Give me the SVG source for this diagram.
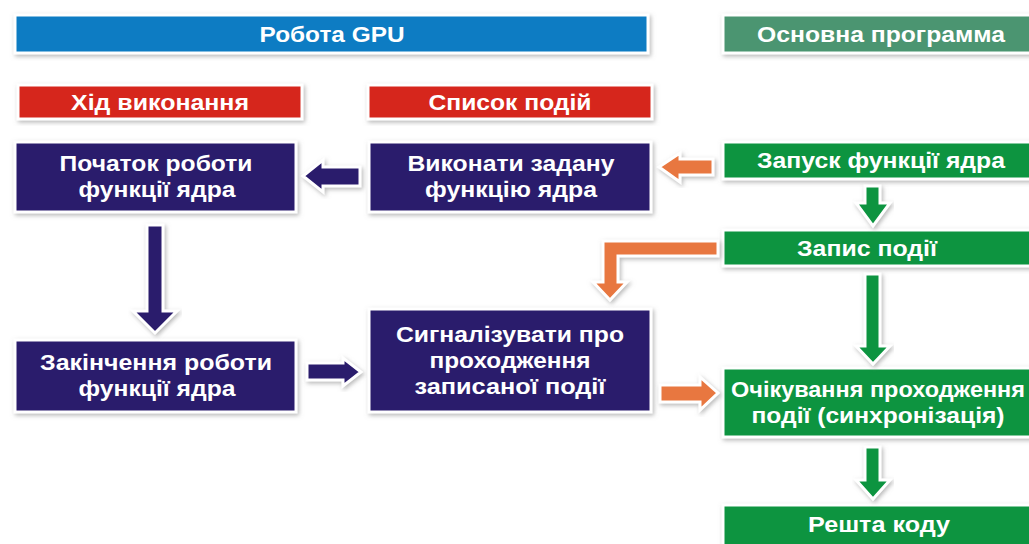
<svg xmlns="http://www.w3.org/2000/svg" width="1029" height="544" viewBox="0 0 1029 544">
<defs>
<filter id="sh" x="-10%" y="-20%" width="120%" height="140%">
<feDropShadow dx="1.5" dy="2" stdDeviation="2" flood-color="#8a8a8a" flood-opacity="0.6"/>
</filter>
</defs>
<style>
.box{stroke:#fff;stroke-width:3;filter:url(#sh)}
.blue{fill:#0a7cc3}.hgreen{fill:#4b9571}.red{fill:#d6261d}.navy{fill:#2a1b6c}.green{fill:#0b9440}
.arr{stroke:#fff;stroke-width:3;stroke-linejoin:miter;filter:url(#sh)}
.an{fill:#2a1b6c}.ao{fill:#e8773f}.ag{fill:#0b9440}
text{font-family:"Liberation Sans",Arial,sans-serif;font-weight:bold;font-size:22px;fill:#fff;text-anchor:middle}
</style>
<rect width="1029" height="544" fill="#fff"/>
<g id="hdr-gpu"><rect class="box blue" x="15" y="15" width="633" height="38"/><text x="332" y="41.5" textLength="145" lengthAdjust="spacingAndGlyphs">Робота GPU</text></g>
<g id="hdr-main"><rect class="box hgreen" x="723" y="15" width="320" height="38"/><text x="881" y="41.5" textLength="248" lengthAdjust="spacingAndGlyphs">Основна программа</text></g>
<g id="hdr-exec"><rect class="box red" x="18" y="85" width="284" height="34"/><text x="160" y="109.5" textLength="178" lengthAdjust="spacingAndGlyphs">Хід виконання</text></g>
<g id="hdr-events"><rect class="box red" x="368" y="85" width="284" height="34"/><text x="510" y="109.5" textLength="163" lengthAdjust="spacingAndGlyphs">Список подій</text></g>
<g id="n-start"><rect class="box navy" x="15" y="142" width="281" height="70"/><text x="156" y="171" textLength="193" lengthAdjust="spacingAndGlyphs">Початок роботи</text><text x="157" y="197" textLength="157" lengthAdjust="spacingAndGlyphs">функції ядра</text></g>
<g id="n-run"><rect class="box navy" x="369" y="142" width="282" height="70"/><text x="511" y="171" textLength="207" lengthAdjust="spacingAndGlyphs">Виконати задану</text><text x="511" y="197" textLength="172" lengthAdjust="spacingAndGlyphs">функцію ядра</text></g>
<g id="n-end"><rect class="box navy" x="15" y="340" width="281" height="72"/><text x="156" y="370" textLength="232" lengthAdjust="spacingAndGlyphs">Закінчення роботи</text><text x="157" y="396" textLength="157" lengthAdjust="spacingAndGlyphs">функції ядра</text></g>
<g id="n-signal"><rect class="box navy" x="369" y="309" width="282" height="103"/><text x="510" y="342" textLength="228" lengthAdjust="spacingAndGlyphs">Сигналізувати про</text><text x="510" y="368" textLength="161" lengthAdjust="spacingAndGlyphs">проходження</text><text x="510" y="394" textLength="191" lengthAdjust="spacingAndGlyphs">записаної події</text></g>
<g id="g-launch"><rect class="box green" x="723" y="142" width="320" height="37"/><text x="881" y="168" textLength="248" lengthAdjust="spacingAndGlyphs">Запуск функції ядра</text></g>
<g id="g-record"><rect class="box green" x="723" y="230" width="320" height="36"/><text x="867" y="256" textLength="140" lengthAdjust="spacingAndGlyphs">Запис події</text></g>
<g id="g-wait"><rect class="box green" x="723" y="368" width="320" height="69"/><text x="878" y="397" textLength="294" lengthAdjust="spacingAndGlyphs">Очікування проходження</text><text x="878" y="423" textLength="253" lengthAdjust="spacingAndGlyphs">події (синхронізація)</text></g>
<g id="g-rest"><rect class="box green" x="723" y="505" width="320" height="50"/><text x="879" y="532" textLength="142" lengthAdjust="spacingAndGlyphs">Решта коду</text></g>
<g id="connectors">
<polygon class="arr an" points="360,167 323,167 323,160 303,176 323,192 323,186 360,186"/>
<polygon class="arr an" points="147,225 163,225 163,311 177,311 155,333 133,311 147,311"/>
<polygon class="arr an" points="307,363 343,363 343,358 361,372 343,386 343,380 307,380"/>
<polygon class="arr ao" points="713,159 680,159 680,153 659,167 680,182 680,175 713,175"/>
<polygon class="arr ao" points="718,241 603,241 603,282 593,282 610,300 627,282 618,282 618,256 718,256"/>
<polygon class="arr ao" points="660,385 700,385 700,377 718,393 700,410 700,402 660,402"/>
<polygon class="arr ag" points="865,186 880,186 880,203 890,203 873,226 856,203 865,203"/>
<polygon class="arr ag" points="865,274 880,274 880,346 890,346 873,364 856,346 865,346"/>
<polygon class="arr ag" points="865,447 880,447 880,480 890,480 873,499 856,480 865,480"/>
</g>
</svg>
